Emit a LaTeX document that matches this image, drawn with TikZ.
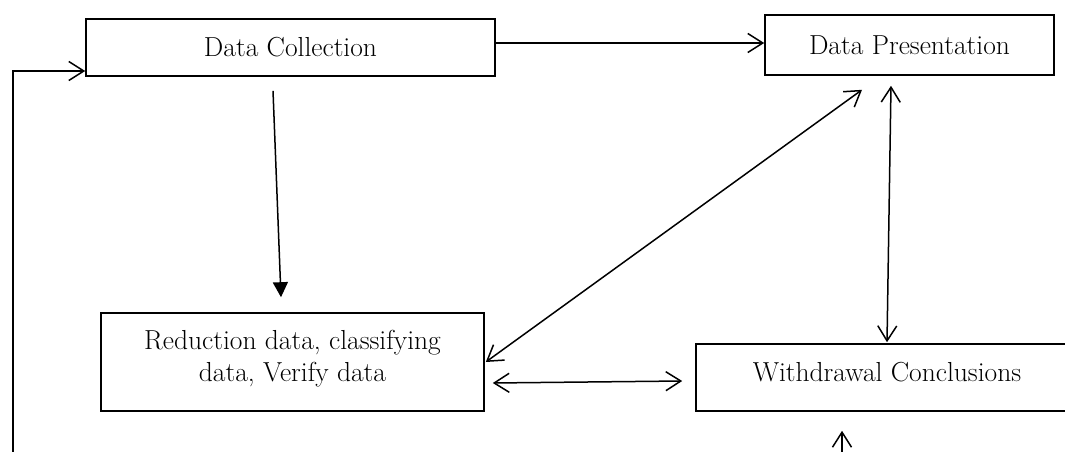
\documentclass[tikz,border=0pt]{standalone}
\usepackage{fontspec}
\usetikzlibrary{arrows.meta}
\begin{document}
\begin{tikzpicture}[x=1pt,y=-1pt,
  box/.style={draw,line width=1.6pt,inner sep=0pt,font=\fontsize{27.5}{32}\selectfont,align=center},
  conn/.style={line width=1.5pt},
  openhead/.style={-{Straight Barb[length=15pt,width=19pt,line width=1.5pt]}},
  bothhead/.style={{Straight Barb[length=15pt,width=19pt,line width=1.5pt]}-{Straight Barb[length=15pt,width=19pt,line width=1.5pt]}},
  fillhead/.style={-{Triangle[length=15pt,width=15pt]}}]
\useasboundingbox (0,0) rectangle (1065,452);
\clip (0,0) rectangle (1065,452);
\fill[white] (0,0) rectangle (1065,452);
\node[box,minimum width=409pt,minimum height=57pt] (dc) at (290.5,47.5) {Data Collection};
\node[box,minimum width=289pt,minimum height=60pt] (dp) at (909.5,45) {Data Presentation};
\node[box,minimum width=383pt,minimum height=98pt] (red) at (292.5,362) {Reduction data, classifying\\data, Verify data\\[-19pt]\mbox{}};
\node[box,minimum width=382pt,minimum height=67pt] (wc) at (887,377.5) {Withdrawal Conclusions\\[-20pt]\mbox{}};
\coordinate (lb) at (13,470);
\coordinate (lt) at (13,71);
\coordinate (bb) at (842,470);
\draw[conn,openhead] (lb) -- (lt) -- (lt -| dc.west);
\draw[conn,openhead] (dc.east |- 0,43) -- (dp.west |- 0,43);
\draw[conn,fillhead] ([xshift=-17.5pt,yshift=-14pt]dc.south) -- ([xshift=-11.5pt,yshift=15pt]red.north);
\draw[conn,bothhead] ([xshift=-47.5pt,yshift=-14pt]dp.south) -- ([xshift=1pt]red.east);
\draw[conn,bothhead] ([xshift=-18.5pt,yshift=-10pt]dp.south) -- ([yshift=1pt]wc.north);
\draw[conn,bothhead] ([xshift=8pt,yshift=-21pt]red.east) -- ([xshift=-13pt,yshift=-3.5pt]wc.west);
\draw[conn,openhead] (bb) -- ([xshift=-45pt,yshift=-19pt]wc.south);
\end{tikzpicture}
\end{document}
